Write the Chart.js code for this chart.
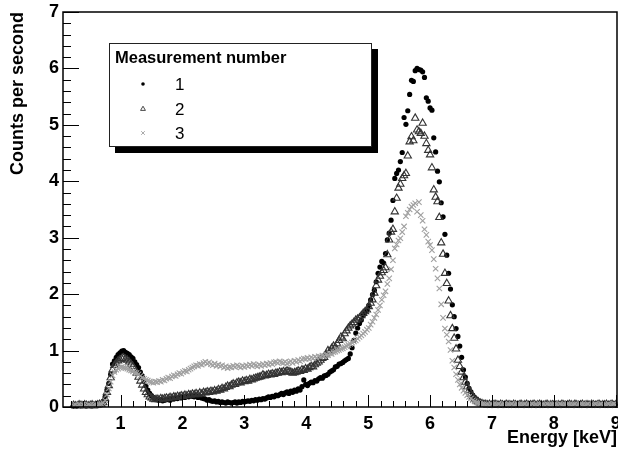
<!DOCTYPE html>
<html><head><meta charset="utf-8">
<script src="https://cdn.jsdelivr.net/npm/chart.js@4.4.1/dist/chart.umd.min.js"></script>
<style>html,body{margin:0;padding:0;background:#fff}#wrap{width:618px;height:452px;position:relative}</style>
</head><body><div id="wrap"><canvas id="c" width="618" height="452"></canvas></div>
<script>
// Histogram bins: first bin centre and bin width (keV)
const binStart = 0.24;
const binWidth = 0.03;

const xTicks = [1, 2, 3, 4, 5, 6, 7, 8, 9];
const yTicks = [0, 1, 2, 3, 4, 5, 6, 7];
const seriesNames = ["1", "2", "3"];

// Counts per second, measurement 1
const meas1 = [
0.02,0.01,0.03,0.02,0.04,0.02,0.03,0.02,0.03,0.04,
0.02,0.03,0.05,0.03,0.04,0.06,0.10,0.18,0.30,0.42,
0.58,0.76,0.82,0.88,0.93,0.96,0.99,1.00,0.97,0.95,
0.93,0.89,0.86,0.80,0.75,0.70,0.62,0.55,0.46,0.37,
0.30,0.24,0.20,0.17,0.15,0.13,0.12,0.13,0.11,0.12,
0.13,0.14,0.12,0.15,0.14,0.16,0.15,0.17,0.16,0.18,
0.17,0.19,0.18,0.20,0.19,0.18,0.20,0.17,0.18,0.16,
0.15,0.14,0.12,0.13,0.11,0.10,0.11,0.09,0.10,0.08,
0.09,0.08,0.07,0.09,0.08,0.07,0.08,0.09,0.07,0.09,
0.08,0.10,0.09,0.10,0.11,0.10,0.12,0.11,0.13,0.12,
0.14,0.13,0.15,0.14,0.16,0.18,0.17,0.19,0.18,0.21,
0.20,0.22,0.24,0.22,0.25,0.27,0.24,0.28,0.26,0.30,
0.28,0.32,0.30,0.36,0.48,0.40,0.38,0.42,0.44,0.43,
0.47,0.46,0.50,0.52,0.51,0.55,0.56,0.58,0.62,0.64,
0.66,0.71,0.72,0.76,0.77,0.79,0.82,0.84,0.86,0.94,
1.05,1.18,1.31,1.40,1.48,1.54,1.62,1.68,1.72,1.80,
1.90,1.99,2.07,2.22,2.37,2.48,2.58,2.55,2.72,2.96,
3.08,3.31,3.66,4.05,4.14,4.20,4.35,4.51,5.13,5.01,
5.25,5.54,5.79,5.77,5.96,6.00,5.98,5.97,5.94,5.84,
5.48,5.42,5.30,5.26,4.77,4.52,4.18,3.99,3.62,3.37,
3.06,2.69,2.37,2.09,1.81,1.60,1.39,1.25,1.08,0.88,
0.66,0.53,0.42,0.33,0.27,0.21,0.17,0.14,0.11,0.09,
0.08,0.07,0.06,
0.05,0.04,0.05,0.04,0.03,0.05,0.04,0.04,0.03,0.05,
0.04,0.03,0.04,0.05,0.03,0.04,0.04,0.03,0.05,0.04,
0.03,0.04,0.05,0.03,0.04,0.03,0.04,0.05,0.03,0.04,
0.04,0.06,0.03,0.04,0.03,0.05,0.04,0.03,0.04,0.05,
0.03,0.04,0.03,0.04,0.05,0.03,0.04,0.04,0.03,0.05,
0.04,0.03,0.04,0.03,0.05,0.04,0.03,0.04,0.05,0.03,
0.04,0.03,0.04,0.05,0.03,0.04,0.03,0.04,0.05,0.04
];

// Counts per second, measurement 2
const meas2 = [
0.03,0.02,0.02,0.04,0.03,0.02,0.04,0.03,0.02,0.03,
0.04,0.02,0.03,0.04,0.05,0.05,0.08,0.15,0.26,0.38,
0.52,0.66,0.74,0.78,0.82,0.84,0.86,0.87,0.85,0.83,
0.80,0.76,0.72,0.66,0.60,0.53,0.46,0.39,0.32,0.26,
0.22,0.18,0.16,0.14,0.13,0.14,0.13,0.15,0.14,0.15,
0.16,0.15,0.17,0.16,0.18,0.17,0.19,0.18,0.20,0.19,
0.21,0.20,0.22,0.21,0.23,0.22,0.24,0.22,0.25,0.23,
0.26,0.25,0.27,0.26,0.28,0.27,0.29,0.28,0.31,0.30,
0.33,0.32,0.35,0.37,0.36,0.39,0.41,0.40,0.43,0.44,
0.43,0.46,0.45,0.47,0.46,0.49,0.48,0.50,0.51,0.52,
0.53,0.54,0.57,0.55,0.56,0.58,0.57,0.59,0.58,0.60,
0.60,0.62,0.61,0.63,0.62,0.64,0.63,0.62,0.60,0.61,
0.62,0.64,0.63,0.66,0.65,0.68,0.67,0.70,0.72,0.71,
0.75,0.78,0.80,0.83,0.86,0.88,0.93,1.00,0.98,1.04,
1.08,1.06,1.12,1.18,1.24,1.21,1.30,1.35,1.40,1.44,
1.47,1.50,1.54,1.56,1.58,1.62,1.66,1.69,1.72,1.78,
1.84,1.90,2.02,2.15,2.25,2.32,2.38,2.42,2.47,2.70,
2.96,3.10,3.15,3.46,3.70,3.88,3.95,4.05,4.10,4.14,
4.45,4.70,4.79,4.72,5.12,4.91,4.88,4.85,5.03,4.80,
4.67,4.55,4.47,4.24,3.85,3.72,3.64,3.36,2.91,2.71,
2.37,2.19,1.88,1.62,1.39,1.22,1.03,0.83,0.72,0.62,
0.52,0.44,0.36,0.29,0.23,0.18,0.14,0.11,0.09,0.07,
0.06,0.05,0.05,
0.04,0.05,0.03,0.04,0.05,0.04,0.03,0.05,0.04,0.03,
0.05,0.04,0.04,0.03,0.05,0.04,0.03,0.04,0.05,0.03,
0.04,0.05,0.03,0.04,0.04,0.05,0.03,0.04,0.05,0.04,
0.03,0.04,0.05,0.03,0.04,0.04,0.05,0.03,0.04,0.03,
0.05,0.04,0.03,0.04,0.05,0.04,0.03,0.05,0.04,0.03,
0.04,0.05,0.03,0.04,0.04,0.03,0.05,0.04,0.03,0.04,
0.05,0.03,0.04,0.04,0.05,0.03,0.04,0.05,0.03,0.04
];

// Counts per second, measurement 3
const meas3 = [
0.03,0.04,0.02,0.03,0.02,0.04,0.03,0.02,0.04,0.03,
0.02,0.03,0.04,0.03,0.04,0.05,0.07,0.12,0.22,0.33,
0.45,0.56,0.62,0.66,0.68,0.70,0.71,0.70,0.69,0.68,
0.66,0.65,0.63,0.61,0.60,0.58,0.55,0.52,0.50,0.48,
0.47,0.45,0.44,0.43,0.45,0.44,0.46,0.45,0.48,0.47,
0.50,0.52,0.51,0.54,0.56,0.55,0.58,0.60,0.59,0.62,
0.64,0.63,0.66,0.68,0.70,0.72,0.74,0.73,0.76,0.75,
0.78,0.80,0.77,0.79,0.76,0.74,0.77,0.73,0.75,0.72,
0.74,0.70,0.72,0.69,0.71,0.70,0.73,0.71,0.74,0.72,
0.70,0.73,0.71,0.74,0.72,0.75,0.73,0.76,0.74,0.72,
0.75,0.73,0.76,0.74,0.77,0.75,0.78,0.76,0.79,0.80,
0.78,0.81,0.79,0.78,0.80,0.77,0.79,0.81,0.78,0.82,
0.80,0.83,0.81,0.84,0.86,0.85,0.87,0.85,0.88,0.86,
0.89,0.87,0.90,0.89,0.91,0.90,0.93,0.92,0.95,0.94,
0.97,0.98,1.00,1.01,1.03,1.04,1.06,1.08,1.10,1.12,
1.14,1.16,1.18,1.21,1.24,1.27,1.30,1.33,1.37,1.40,
1.46,1.51,1.58,1.64,1.72,1.80,1.90,1.98,2.05,2.18,
2.28,2.44,2.60,2.81,2.88,2.95,2.99,3.10,3.20,3.38,
3.44,3.50,3.55,3.58,3.61,3.46,3.63,3.40,3.30,3.15,
3.05,2.93,2.87,2.78,2.62,2.45,2.28,2.10,1.82,1.58,
1.39,1.28,1.16,1.01,0.82,0.70,0.58,0.48,0.40,0.34,
0.29,0.25,0.21,0.18,0.15,0.12,0.10,0.08,0.07,0.06,
0.05,0.05,0.04,
0.04,0.03,0.05,0.04,0.03,0.04,0.05,0.03,0.04,0.05,
0.03,0.04,0.04,0.05,0.03,0.04,0.05,0.04,0.03,0.04,
0.05,0.03,0.04,0.04,0.05,0.03,0.04,0.03,0.05,0.04,
0.04,0.03,0.05,0.04,0.03,0.04,0.05,0.04,0.03,0.05,
0.04,0.03,0.04,0.05,0.04,0.03,0.04,0.05,0.03,0.04,
0.05,0.04,0.03,0.04,0.05,0.03,0.04,0.04,0.05,0.03,
0.04,0.05,0.03,0.04,0.04,0.05,0.03,0.04,0.05,0.04
];

function toPoints(vals) {
  return vals.map((v, i) => ({ x: +(binStart + i * binWidth).toFixed(3), y: v }));
}

const styles = [
  { pointStyle: 'circle', radius: 2.6, border: '#000', bg: '#000', bw: 0, lr: 1.8 },
  { pointStyle: 'triangle', radius: 4.2, border: '#333', bg: 'rgba(255,255,255,0)', bw: 1.1, lr: 2.8 },
  { pointStyle: 'crossRot', radius: 3.8, border: '#a0a0a0', bg: 'rgba(0,0,0,0)', bw: 1.1, lr: 2.6 }
];
const allSeries = [meas1, meas2, meas3];

const datasets = allSeries.map((vals, k) => ({
  label: seriesNames[k],
  data: toPoints(vals),
  pointStyle: styles[k].pointStyle,
  pointRadius: styles[k].radius,
  pointHoverRadius: styles[k].radius,
  pointBorderColor: styles[k].border,
  pointBackgroundColor: styles[k].bg,
  pointBorderWidth: styles[k].bw,
  showLine: false,
  clip: false,
  order: 2 - k
}));

const FONT = "'Liberation Sans', Arial, Helvetica, sans-serif";

const axisPlugin = {
  id: 'rootAxes',
  afterDatasetsDraw(chart) {
    const { ctx, chartArea: a, scales: { x, y } } = chart;
    ctx.save();
    ctx.strokeStyle = '#000';
    ctx.lineWidth = 1;
    for (let v = 0; v <= 7.0001; v += 0.2) {
      const py = Math.round(y.getPixelForValue(v)) + 0.5;
      const major = Math.abs(v - Math.round(v)) < 1e-6;
      ctx.beginPath();
      ctx.moveTo(a.left, py);
      ctx.lineTo(a.left + (major ? 16 : 8), py);
      ctx.stroke();
    }
    for (let v = 0.2; v <= 9.0001; v += 0.2) {
      const px = Math.round(x.getPixelForValue(v)) + 0.5;
      const major = Math.abs(v - Math.round(v)) < 1e-6;
      ctx.beginPath();
      ctx.moveTo(px, a.bottom);
      ctx.lineTo(px, a.bottom - (major ? 12 : 6));
      ctx.stroke();
    }
    ctx.lineWidth = 1.5;
    ctx.beginPath();
    ctx.moveTo(a.left, a.top);
    ctx.lineTo(a.right, a.top);
    ctx.lineTo(a.right, a.bottom);
    ctx.lineTo(a.left, a.bottom);
    ctx.closePath();
    ctx.stroke();
    ctx.restore();
  }
};

const legendPlugin = {
  id: 'rootLegend',
  afterDraw(chart) {
    const ctx = chart.ctx;
    const L = 109, T = 43, W = 263, H = 104, S = 6;
    ctx.save();
    ctx.fillStyle = '#000';
    ctx.fillRect(L + S, T + S, W, H);
    ctx.fillStyle = '#fff';
    ctx.fillRect(L, T, W, H);
    ctx.strokeStyle = '#222';
    ctx.lineWidth = 1;
    ctx.strokeRect(L + 0.5, T + 0.5, W - 1, H - 1);
    ctx.fillStyle = '#000';
    ctx.textBaseline = 'middle';
    ctx.textAlign = 'left';
    ctx.font = "bold 16.5px " + FONT;
    ctx.fillText('Measurement number', 115, 58);
    ctx.font = "17px " + FONT;
    const rowsY = [84, 109, 133];
    chart.data.datasets.forEach((ds, k) => {
      ctx.save();
      ctx.fillStyle = styles[k].bg;
      ctx.strokeStyle = styles[k].border;
      ctx.lineWidth = 0.9;
      Chart.helpers.drawPoint(ctx, {
        pointStyle: styles[k].pointStyle,
        radius: styles[k].lr,
        borderWidth: styles[k].bw ? 0.9 : 0,
        rotation: 0
      }, 143, rowsY[k]);
      ctx.restore();
      ctx.fillStyle = '#000';
      ctx.fillText(ds.label, 175, rowsY[k] + 1);
    });
    ctx.restore();
  }
};

Chart.defaults.color = '#000';
Chart.defaults.font.family = FONT;

new Chart(document.getElementById('c'), {
  type: 'scatter',
  data: { datasets },
  options: {
    responsive: false,
    animation: false,
    events: [],
    layout: { autoPadding: false, padding: { top: 12, right: 1, left: 0, bottom: 0 } },
    plugins: { legend: { display: false }, tooltip: { enabled: false } },
    scales: {
      x: {
        type: 'linear',
        min: 0.07,
        max: 9.02,
        afterBuildTicks: s => { s.ticks = xTicks.map(v => ({ value: v })); },
        afterFit: s => { s.height = 45; s.paddingLeft = 0; s.paddingRight = 0; },
        grid: { display: false, drawTicks: false },
        border: { display: false },
        ticks: { autoSkip: false, maxRotation: 0, padding: 6, font: { size: 18, weight: 'bold' }, color: '#000' },
        title: { display: true, text: 'Energy [keV]', align: 'end', font: { size: 18, weight: 'bold' }, color: '#000', padding: { top: 0, bottom: 3 } }
      },
      y: {
        type: 'linear',
        min: 0,
        max: 7,
        afterBuildTicks: s => { s.ticks = yTicks.map(v => ({ value: v })); },
        afterFit: s => { s.width = 63; s.paddingTop = 0; s.paddingBottom = 0; },
        grid: { display: false, drawTicks: false },
        border: { display: false },
        ticks: { padding: 4, font: { size: 18, weight: 'bold' }, color: '#000' },
        title: { display: true, text: 'Counts per second', align: 'end', font: { size: 18, weight: 'bold' }, color: '#000', padding: { top: 7, bottom: 0 } }
      }
    }
  },
  plugins: [axisPlugin, legendPlugin]
});
</script></body></html>
